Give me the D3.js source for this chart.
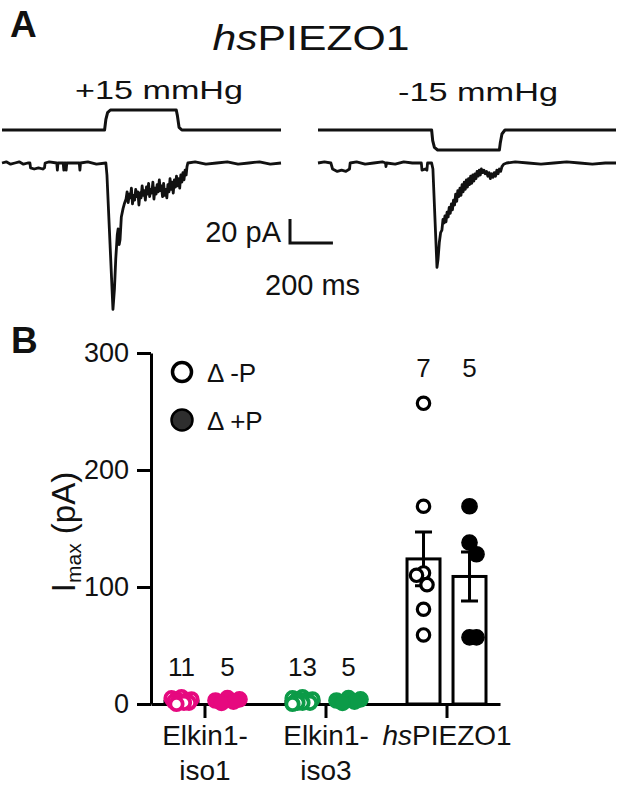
<!DOCTYPE html>
<html>
<head>
<meta charset="utf-8">
<script src="https://cdn.jsdelivr.net/npm/d3@7"></script>
<style>
  html, body { margin: 0; padding: 0; background: #fff; }
  svg { display: block; font-family: "Liberation Sans", Arial, Helvetica, sans-serif; }
</style>
</head>
<body>
<svg id="chart" width="617" height="791"></svg>
<script>
// ---------------- DATA ----------------
// Panel A: traces (time in ms, pressure in mmHg, current in pA)
const leftPressure = [[0,0],[478,0],[484,8],[492,13],[505,15],[812,15],[817,11],[825,2],[838,0],[1300,0]];
const rightPressure = [[0,0],[530,0],[535,-8],[543,-13],[558,-15],[846,-15],[850,-10],[858,-3],[872,0],[1390,0]];
const leftCurrent = [[0,0],[20,1],[40,-1],[60,0],[80,1],[100,-1],[120,0],[130,0],[133,-4],[150,-5],[170,-4],[190,-5],[198,-4],[201,0],[220,1],[255,0],[258,-6],[261,0],[285,0],[288,-6],[291,0],[296,0],[299,-6],[302,0],[360,0],[363,-6],[366,0],[400,1],[440,-1],[484,0],[489,-10],[517,-122],[524,-105],[530,-80],[537,-60],[541,-55],[546,-68],[550,-64],[556,-45],[564,-38],[570,-34],
  [578,-30],[583,-24],[588,-33],[593,-26],[598,-29],[603,-21],[608,-34],[613,-27],[618,-31],[623,-22],[628,-28],[633,-24],[638,-35],[643,-25],[648,-29],[653,-19],[658,-27],[663,-23],[668,-31],[673,-20],[678,-26],[683,-17],[688,-28],[693,-22],[698,-25],[703,-16],[708,-30],[713,-21],[718,-26],[723,-18],[728,-24],[733,-14],[738,-23],[743,-19],[748,-28],[753,-17],[758,-27],[763,-22],[768,-29],[773,-18],[778,-24],[783,-13],[788,-22],[793,-16],[798,-25],[803,-14],[808,-20],[813,-11],[818,-19],[823,-13],[828,-21],[833,-10],[838,-16],[843,-8],[848,-14],[853,-6],[858,-10],[862,-3],[866,0],
  [900,1],[950,-1],[1000,0],[1050,1],[1100,-1],[1150,0],[1200,1],[1250,-1],[1300,0]];
const rightCurrent = [[0,0],[30,1],[60,0],[68,-5],[90,-7],[110,-6],[130,-7],[147,-5],[150,0],[180,1],[220,-1],[260,0],[300,1],[315,0],[317,-3],[320,0],[360,-1],[400,1],[440,0],[482,0],[485,-6],[500,-5],[508,-6],[511,0],[530,0],[536,-5],[555,-87],[560,-80],[566,-66],[572,-58],[578,-56],[583,-47],[588,-50],[592,-44],[597,-49],[602,-41],[607,-45],[612,-37],[617,-42],[622,-34],[627,-39],[632,-31],[637,-35],[642,-26],[647,-32],[652,-23],[657,-28],[662,-21],[667,-27],[672,-18],[677,-24],[682,-16],[687,-22],[692,-14],[697,-20],[702,-13],[707,-18],[712,-11],[717,-17],[722,-10],[727,-15],[732,-9],[737,-13],[742,-7],[747,-11],[752,-6],[757,-10],[762,-5],[768,-8],[774,-6],[780,-9],[786,-7],[792,-11],[798,-8],[804,-13],[810,-9],[816,-12],[822,-8],[828,-11],[834,-6],[840,-9],[846,-5],[852,-7],[858,-3],[866,-1],[880,0],[920,1],[980,0],[1040,-1],[1100,0],[1160,1],[1220,0],[1280,-1],[1340,0],[1390,0]];
const pressureLabels = ["+15 mmHg", "-15 mmHg"];
const scaleBarCurrent = 20;   // pA
const scaleBarTime = 200;     // ms

// Panel B
const categories = ["Elkin1-iso1", "Elkin1-iso3", "hsPIEZO1"];
const categoryColors = ["#e6097f", "#0c9b48", "#000000"];
const openPoints = [
  [1, 4, 0, 6, 2, 5, 3, 2, 1, 4, 2],
  [1, 4, 2, 0, 5, 3, 2, 6, 1, 3, 2, 4, 1],
  [257, 169, 112, 110, 102, 81, 59]
];
const filledPoints = [
  [2, 4, 1, 5, 3],
  [3, 2, 5, 1, 4],
  [169, 138, 128, 57, 57]
];
const openMean = [2.4, 2.4, 124];
const openSem = [0.5, 0.4, 23];
const filledMean = [2.5, 2.6, 109];
const filledSem = [0.5, 0.4, 21];
const nOpen = [11, 13, 7];
const nFilled = [5, 5, 5];
const yTicks = [0, 100, 200, 300];
const legendLabels = ["\u0394 -P", "\u0394 +P"];

// ---------------- DRAW ----------------
const svg = d3.select("#chart");
svg.append("rect").attr("width", 617).attr("height", 791).attr("fill", "#fff");

// ----- Panel A -----
const xL = d3.scaleLinear().domain([0, 1300]).range([2, 281]);
const xR = d3.scaleLinear().domain([0, 1390]).range([318, 616]);
const yP = d3.scaleLinear().domain([0, 15]).range([130, 110]);
const yI = d3.scaleLinear().domain([0, -20]).range([163, 187]);

svg.append("text").attr("x", 10).attr("y", 37).attr("font-size", 37).attr("font-weight", "bold").attr("fill", "#111").text("A");
const title = svg.append("text").attr("x", 311).attr("y", 50).attr("font-size", 35).attr("fill", "#111")
  .attr("text-anchor", "middle").attr("textLength", 197).attr("lengthAdjust", "spacingAndGlyphs");
title.append("tspan").attr("font-style", "italic").text("hs");
title.append("tspan").text("PIEZO1");

svg.append("text").attr("x", 159).attr("y", 99).attr("font-size", 25).attr("text-anchor", "middle").attr("fill", "#111")
  .attr("textLength", 168).attr("lengthAdjust", "spacingAndGlyphs").text(pressureLabels[0]);
svg.append("text").attr("x", 478).attr("y", 101).attr("font-size", 25).attr("text-anchor", "middle").attr("fill", "#111")
  .attr("textLength", 160).attr("lengthAdjust", "spacingAndGlyphs").text(pressureLabels[1]);

function trace(data, xs, ys, sw) {
  svg.append("path").datum(data)
    .attr("d", d3.line().x(d => xs(d[0])).y(d => ys(d[1])))
    .attr("fill", "none").attr("stroke", "#111").attr("stroke-width", sw)
    .attr("stroke-linejoin", "round").attr("stroke-linecap", "butt");
}
trace(leftPressure, xL, yP, 3);
trace(rightPressure, xR, yP, 3);
trace(leftCurrent, xL, yI, 2.8);
trace(rightCurrent, xR, yI, 2.8);

// scale bar
const sbX = 290, sbY = 243;
const sbH = yI(-scaleBarCurrent) - yI(0);
const sbW = xL(scaleBarTime) - xL(0);
svg.append("path").attr("d", `M${sbX},${sbY - sbH}V${sbY}H${sbX + sbW}`)
  .attr("fill", "none").attr("stroke", "#111").attr("stroke-width", 3);
svg.append("text").attr("x", 281).attr("y", 242).attr("font-size", 29).attr("text-anchor", "end").attr("fill", "#111").text(scaleBarCurrent + " pA");
svg.append("text").attr("x", 265).attr("y", 295).attr("font-size", 29).attr("fill", "#111").text(scaleBarTime + " ms");

// ----- Panel B -----
svg.append("text").attr("x", 11).attr("y", 353).attr("font-size", 37).attr("font-weight", "bold").attr("fill", "#111").text("B");

const y = d3.scaleLinear().domain([0, 300]).range([704, 353]);
const x = d3.scalePoint().domain(categories).range([151, 500]).padding(0.442);
const sub = d3.scaleBand().domain(["open", "filled"]).range([-46, 46]).paddingInner(0.283).paddingOuter(0.1415);

// y axis
const gy = svg.append("g").attr("transform", "translate(151,0)")
  .call(d3.axisLeft(y).tickValues(yTicks).tickSize(14).tickPadding(8).tickSizeOuter(0));
gy.select(".domain").attr("stroke-width", 3).attr("stroke", "#000");
gy.selectAll(".tick line").attr("stroke-width", 3).attr("stroke", "#000");
gy.selectAll(".tick text").attr("font-size", 27).attr("font-family", null).attr("fill", "#111");

// y title
const yt = svg.append("text").attr("transform", "translate(75,532) rotate(-90)")
  .attr("text-anchor", "middle").attr("font-size", 33).attr("fill", "#111");
yt.append("tspan").text("I");
yt.append("tspan").attr("font-size", 21).attr("dy", 6).text("max");
yt.append("tspan").attr("dy", -6).text(" (pA)");

// bars
categories.forEach((c, i) => {
  const groups = [
    {key: "open", mean: openMean[i], sem: openSem[i]},
    {key: "filled", mean: filledMean[i], sem: filledSem[i]}
  ];
  groups.forEach(g => {
    const bx = x(c) + sub(g.key);
    svg.append("rect").attr("x", bx).attr("y", y(g.mean)).attr("width", sub.bandwidth())
      .attr("height", y(0) - y(g.mean)).attr("fill", "#fff").attr("stroke", "#000").attr("stroke-width", 3);
  });
});
// error bars
categories.forEach((c, i) => {
  const groups = [
    {key: "open", mean: openMean[i], sem: openSem[i]},
    {key: "filled", mean: filledMean[i], sem: filledSem[i]}
  ];
  groups.forEach(g => {
    const cx = x(c) + sub(g.key) + sub.bandwidth() / 2;
    const y1 = y(g.mean + g.sem), y2 = y(g.mean - g.sem);
    svg.append("path").attr("d", `M${cx},${y1}V${y2}M${cx - 8.5},${y1}H${cx + 8.5}M${cx - 8.5},${y2}H${cx + 8.5}`)
      .attr("stroke", "#000").attr("stroke-width", 3).attr("fill", "none");
  });
});

// x axis
const gx = svg.append("g").attr("transform", "translate(0,704)")
  .call(d3.axisBottom(x).tickSize(14).tickSizeOuter(0));
gx.select(".domain").attr("stroke-width", 3).attr("stroke", "#000");
gx.selectAll(".tick line").attr("stroke-width", 3).attr("stroke", "#000");
gx.selectAll(".tick text").each(function(d) {
  const t = d3.select(this).text("").attr("font-size", 28).attr("font-family", null)
    .attr("fill", "#111").attr("y", 41).attr("dy", null);
  if (d.startsWith("Elkin1-")) {
    t.append("tspan").attr("x", 0).attr("y", 41).text("Elkin1-");
    t.append("tspan").attr("x", 0).attr("y", 76).text(d.slice(7));
  } else {
    t.append("tspan").attr("font-style", "italic").text("hs");
    t.append("tspan").text(d.slice(2));
  }
});

// swarm layout
function swarm(vals, cx, r, maxOff, step, dir) {
  const cands = [0];
  for (let k = 1; k * step <= maxOff + 0.01; k++) cands.push(-dir * k * step, dir * k * step);
  const pts = vals.map(v => ({v, py: y(v)})).sort((a, b) => a.py - b.py);
  const placed = [];
  pts.forEach(p => {
    let best = cands[0], bestD = -1;
    for (const c of cands) {
      let minD = Infinity;
      placed.forEach(q => { minD = Math.min(minD, Math.hypot(q.px - (cx + c), q.py - p.py)); });
      if (minD >= 2 * r * 0.8) { best = c; bestD = Infinity; break; }
      if (minD > bestD + 0.5) { bestD = minD; best = c; }
    }
    p.px = cx + best;
    placed.push(p);
  });
  return placed;
}

categories.forEach((c, i) => {
  const col = categoryColors[i];
  const cxO = x(c) + sub("open") + sub.bandwidth() / 2;
  const cxF = x(c) + sub("filled") + sub.bandwidth() / 2;
  const small = i < 2;
  swarm(openPoints[i], cxO, 7.5, small ? 10 : 7, small ? 2.5 : 3.5, 1).forEach(p => {
    svg.append("circle").attr("cx", p.px).attr("cy", p.py).attr("r", 6.2)
      .attr("fill", "#fff").attr("stroke", col).attr("stroke-width", small ? 3.8 : 3.2);
  });
  swarm(filledPoints[i], cxF, 8, small ? 12 : 8, small ? 3 : 3.5, -1).forEach(p => {
    svg.append("circle").attr("cx", p.px).attr("cy", p.py).attr("r", 7.6)
      .attr("fill", col).attr("stroke", col).attr("stroke-width", 1.5);
  });
  const gMax = Math.max(d3.max(openPoints[i]), d3.max(filledPoints[i]));
  const ly = i < 2 ? y(0) - 28 : y(gMax) - 26;
  svg.append("text").attr("x", cxO).attr("y", ly).attr("font-size", 26).attr("text-anchor", "middle").attr("fill", "#111").text(nOpen[i]);
  svg.append("text").attr("x", cxF).attr("y", ly).attr("font-size", 26).attr("text-anchor", "middle").attr("fill", "#111").text(nFilled[i]);
});

// legend
svg.append("circle").attr("cx", 182).attr("cy", 372).attr("r", 9.5).attr("fill", "#fff").attr("stroke", "#000").attr("stroke-width", 3.5);
svg.append("circle").attr("cx", 182).attr("cy", 420).attr("r", 10.5).attr("fill", "#2e2e2e").attr("stroke", "#000").attr("stroke-width", 2.5);
svg.append("text").attr("x", 207).attr("y", 382).attr("font-size", 26).attr("fill", "#111").text(legendLabels[0]);
svg.append("text").attr("x", 207).attr("y", 430).attr("font-size", 26).attr("fill", "#111").text(legendLabels[1]);
</script>
</body>
</html>
